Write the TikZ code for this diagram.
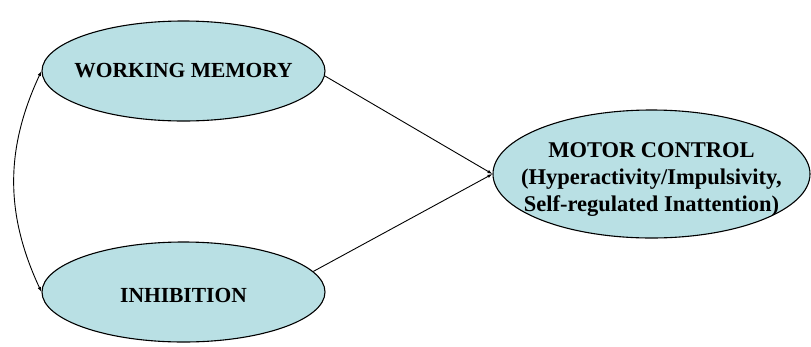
\documentclass[tikz,border=0pt]{standalone}
\usepackage{fontspec}
\setmainfont{Liberation Serif}
\usetikzlibrary{arrows.meta, positioning, shapes.geometric}
\definecolor{blobfill}{RGB}{185,224,228}

\begin{document}
\begin{tikzpicture}[x=1pt, y=-1pt,
    blob/.style={ellipse, draw, line width=1.1pt, fill=blobfill, inner sep=0pt},
    blobtext/.style={font=\bfseries\fontsize{21.5}{27}\selectfont, align=center},
    link/.style={-{Latex[length=5pt,width=3.5pt]}, line width=0.9pt}]
    % Rahmen
    \useasboundingbox (0,0) rectangle (811,346);

    % Ellipsen
    \node[blob, minimum width=283pt, minimum height=100pt] (wm) at (183.5,71) {};
    \node[blobtext] (wm-text) at (wm) {WORKING MEMORY};

    \node[blob, minimum width=283pt, minimum height=100pt] (inh) at (183.5,292) {};
    \node[blobtext] (inh-text) at ([yshift=-3pt]inh.center) {INHIBITION};

    \node[blob, minimum width=317pt, minimum height=128pt] (mc) at (651.5,174) {};
    \node[blobtext, font=\bfseries\fontsize{22.5}{27}\selectfont] (mc-text) at ([yshift=-6pt]mc.center)
        {MOTOR CONTROL\\(Hyperactivity/Impulsivity,\\Self-regulated Inattention)};

    % Pfeile
    \draw[link] (wm.-2.5) -- (mc.west);
    \draw[link] (inh.9) -- (mc.west);
    \draw[{Latex[length=5pt,width=3.5pt]}-{Latex[length=5pt,width=3.5pt]}, line width=0.9pt]
        (wm.west) to[bend right=25] (inh.west);
\end{tikzpicture}
\end{document}
